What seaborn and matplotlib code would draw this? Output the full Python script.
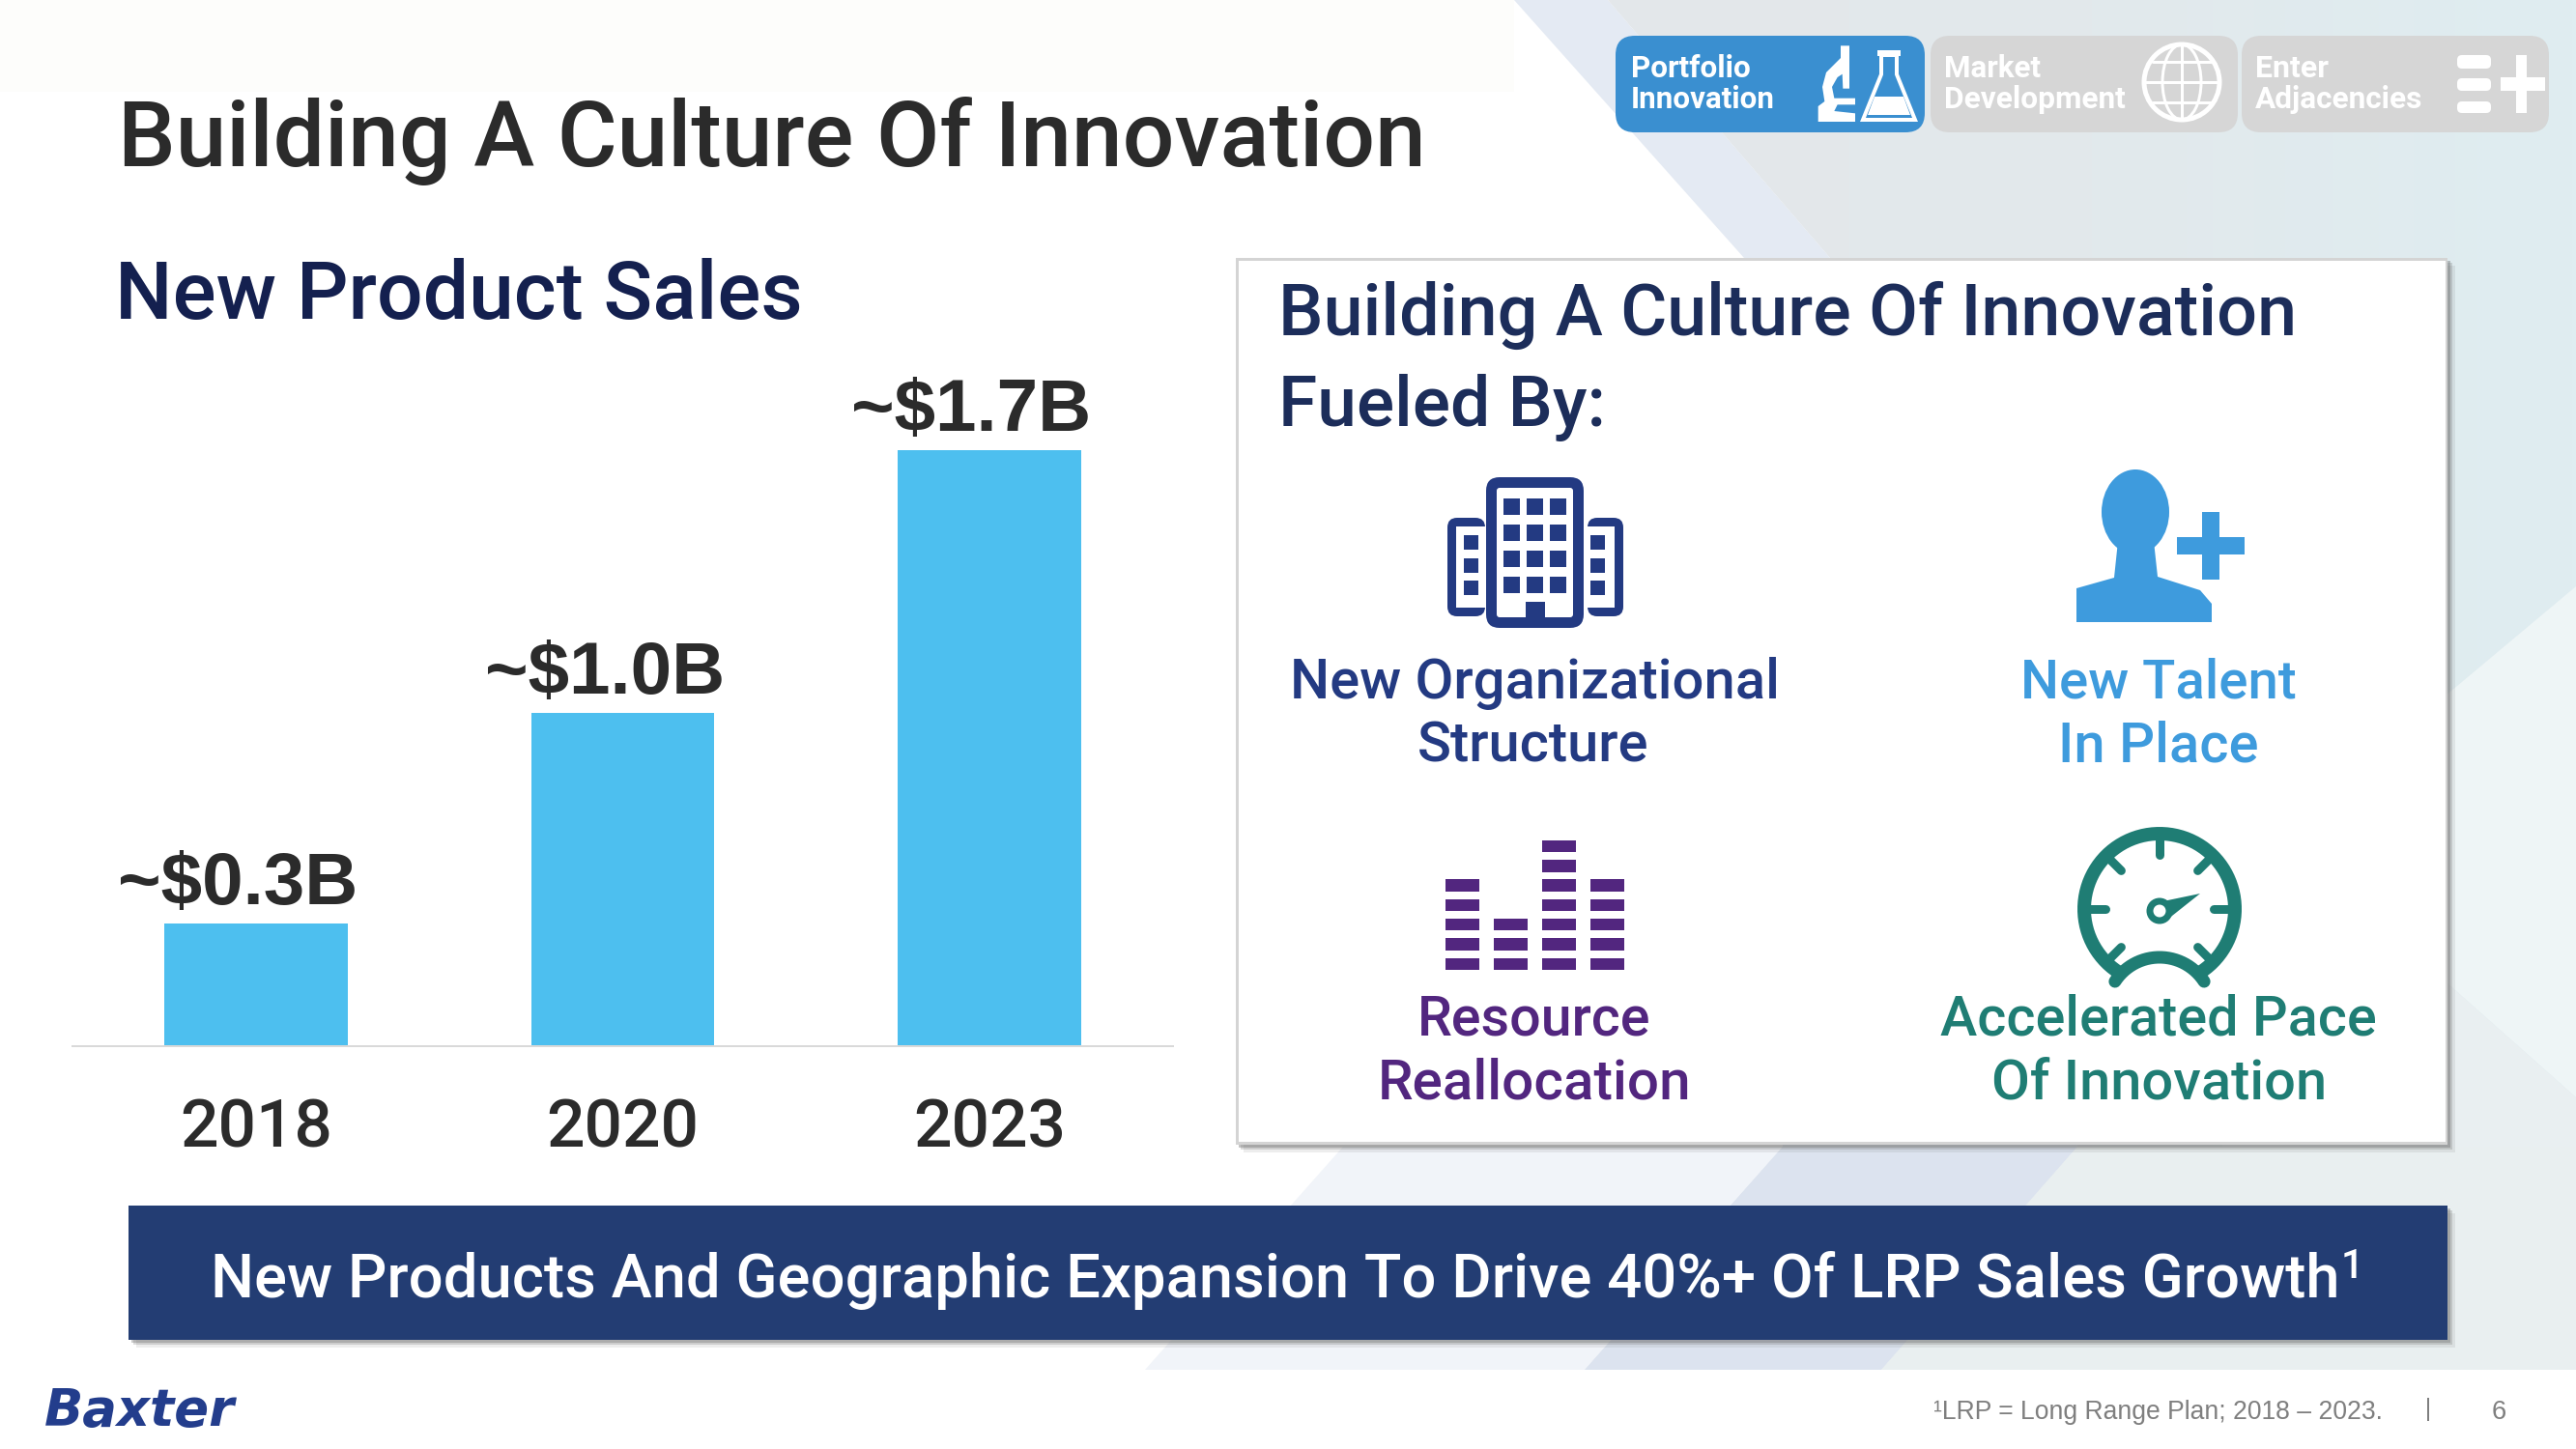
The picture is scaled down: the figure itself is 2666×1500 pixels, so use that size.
import numpy as np
import pandas as pd
import matplotlib
matplotlib.use('Agg')
import matplotlib.pyplot as plt
import seaborn as sns
from matplotlib.patches import Polygon, Rectangle, FancyBboxPatch, Circle, Ellipse
from matplotlib.colors import LinearSegmentedColormap

years = ['2018', '2020', '2023']
sales = [0.35, 0.95, 1.7]  # bar heights as drawn, $B
sales_labels = ['~$0.3B', '~$1.0B', '~$1.7B']

W, H = 2666, 1500
S = W / 1568.0
NARROW = ['Roboto', 'DejaVu Sans']
PLAIN = ['Liberation Sans', 'DejaVu Sans']

sns.set_style('white')
plt.rcParams['font.family'] = NARROW

fig = plt.figure(figsize=(W / 200, H / 200), dpi=200, facecolor='white')
bg = fig.add_axes([0, 0, 1, 1])
bg.set_axis_off()


def lw(px):
    return px * 72 / 200.0


def poly(pts, c, z=1, **kw):
    p = Polygon(pts, closed=True, fc=c, ec='none', zorder=z, **kw)
    bg.add_patch(p)
    return p


def box(x0, y0, x1, y1, c, z=2, **kw):
    bg.add_patch(Rectangle((x0, y0), x1 - x0, y1 - y0, fc=c, ec='none', zorder=z, **kw))


def rbox(x0, y0, x1, y1, r, c, z=3):
    bg.add_patch(FancyBboxPatch((x0 + r, y0 + r), x1 - x0 - 2 * r, y1 - y0 - 2 * r,
                                boxstyle='round,pad=%f' % r, fc=c, ec='none', zorder=z))


def line(xs, ys, c, w, z=5, cap='round'):
    bg.plot(xs, ys, color=c, lw=lw(w), solid_capstyle=cap, zorder=z)


def txt(x, y, s, width, c, ha='left', weight='medium', family=NARROW, z=6, **kw):
    # size gets scaled so the string comes out at the width seen in the slide
    t = bg.text(x, y, s, fontsize=20, color=c, ha=ha, va='baseline', fontweight=weight,
                family=family, zorder=z, **kw)
    got = t.get_window_extent(fig.canvas.get_renderer()).width
    t.set_fontsize(20 * width / got)
    return t


# background shards
bg_cmap = LinearSegmentedColormap.from_list('bgc', ['#e4e7ea', '#e2e9ec', '#dfedf1'])
bg.set_xlim(0, W)
bg.set_ylim(H, 0)
box(0, 0, 1567, 95, '#fdfdfb', z=0)
poly([(1567, 0), (1664, 0), (1894, 267), (2150, 1187), (1947, 1418), (1640, 1418), (1845, 1187), (1805, 267)],
     '#e4eaf3', z=1)
main = poly([(1664, 0), (W, 0), (W, 1418), (1947, 1418), (2150, 1187), (1894, 267)], 'none', z=1)
im = bg.imshow(np.linspace(0, 1, 256).reshape(1, -1), extent=(1664, W, H, 0), cmap=bg_cmap,
               aspect='auto', zorder=1)
im.set_clip_path(main)
poly([(2400, 830), (W, 607), (W, 1136), (2400, 900)], '#eef5f6', z=1.2)
poly([(2400, 900), (W, 1136), (W, 1418), (2300, 1418), (2300, 900)], '#e9eff1', z=1.2)
poly([(1390, 1187), (1845, 1187), (1640, 1418), (1185, 1418)], '#f1f4f9', z=1.2)
poly([(1845, 1187), (2150, 1187), (1947, 1418), (1640, 1418)], '#dce3ef', z=1.2)
poly([(2150, 1187), (W, 1187), (W, 1418), (1947, 1418)], '#e9eff0', z=1.2)
bg.set_xlim(0, W)
bg.set_ylim(H, 0)

# top right tabs
rbox(1672, 37, 1992, 137, 20, '#3a8fd0')
rbox(1998, 37, 2316, 137, 20, '#d6d6d6')
rbox(2320, 37, 2638, 137, 20, '#d6d6d6')
txt(1688, 80, 'Portfolio', 124, 'white', weight='bold')
txt(1688, 112, 'Innovation', 149, 'white', weight='bold')
txt(2012, 80, 'Market', 100, 'white', weight='bold')
txt(2012, 112, 'Development', 188, 'white', weight='bold')
txt(2334, 80, 'Enter', 76, 'white', weight='bold')
txt(2334, 112, 'Adjacencies', 173, 'white', weight='bold')

# flask
poly([(1947, 57), (1947, 77), (1928, 124), (1982, 124), (1963, 77), (1963, 57)], 'none', z=5).set(ec='white', lw=lw(4))
box(1943, 52, 1967, 58, 'white', z=5)
poly([(1940, 100), (1970, 100), (1977, 119), (1933, 119)], 'white', z=5)
scope = [(105, 22), (132, 22), (132, 155), (112, 155), (110, 110), (95, 120), (78, 150), (85, 185),
         (150, 185), (150, 205), (95, 205), (85, 225), (150, 232), (150, 258), (35, 258), (35, 210),
         (55, 195), (48, 150), (60, 105), (100, 65), (105, 60)]
poly([(1870 + x / 3.0, 40 + y / 3.0) for x, y in scope], 'white', z=5)

# globe
bg.add_patch(Circle((2258, 85), 39, fc='none', ec='white', lw=lw(5), zorder=5))
bg.add_patch(Ellipse((2258, 85), 40, 78, fc='none', ec='white', lw=lw(3), zorder=5))
line([2258, 2258], [46, 124], 'white', 3)
line([2220, 2296], [85, 85], 'white', 3)
line([2228, 2288], [64, 64], 'white', 3)
line([2228, 2288], [106, 106], 'white', 3)

# adjacencies icon
for y0, y1 in [(57, 71), (81, 94), (105, 117)]:
    rbox(2543, y0, 2578, y1, 5, 'white', z=5)
box(2604, 57, 2615, 117, 'white', z=5)
box(2588, 80, 2634, 94, 'white', z=5)

# titles
txt(72 * S, 101 * S, 'Building A Culture Of Innovation', 796 * S, '#2b2b2b')
txt(70 * S, 194 * S, 'New Product Sales', 418 * S, '#14204f')

# card + shadow
for off, a in [(8, 0.12), (5, 0.25), (3, 0.4)]:
    box(1279 + off, 267 + off, 2533 + off, 1185 + off, '#707070', z=2, alpha=a)
box(1279, 267, 2533, 1185, '#d4d4d4', z=2.5)
box(1282, 270, 2531, 1182, 'white', z=2.6)
txt(778 * S, 204 * S, 'Building A Culture Of Innovation', 620 * S, '#1c2d5a')
txt(778 * S, 259.5 * S, 'Fueled By:', 199 * S, '#1c2d5a')

NAVY = '#233a82'
SKY = '#3e9bdd'
PURPLE = '#52267f'
TEAL = '#1f7d74'
txt(934 * S, 425 * S, 'New Organizational', 298 * S, NAVY, ha='center')
txt(933 * S, 464 * S, 'Structure', 141 * S, NAVY, ha='center')
txt(1314 * S, 425 * S, 'New Talent', 168 * S, SKY, ha='center')
txt(1314 * S, 464 * S, 'In Place', 122 * S, SKY, ha='center')
txt(934 * S, 630 * S, 'Resource', 142 * S, PURPLE, ha='center')
txt(934 * S, 669 * S, 'Reallocation', 191 * S, PURPLE, ha='center')
txt(1314 * S, 630 * S, 'Accelerated Pace', 266 * S, TEAL, ha='center')
txt(1314 * S, 669 * S, 'Of Innovation', 204 * S, TEAL, ha='center')

# building icon
rbox(1538, 494, 1639, 650, 14, NAVY, z=4)
rbox(1549, 505, 1628, 639, 3, 'white', z=4.5)
rbox(1498, 536, 1537, 638, 10, NAVY, z=4)
box(1507, 545, 1537, 629, 'white', z=4.5)
rbox(1643, 536, 1680, 638, 10, NAVY, z=4)
box(1643, 545, 1671, 629, 'white', z=4.5)
for wx in [1556, 1580, 1604]:
    for wy in [516, 543, 570, 597]:
        box(wx, wy, wx + 17, wy + 17, NAVY, z=5)
box(1579, 623, 1599, 640, NAVY, z=5)
for wx in [1515, 1646]:
    for wy in [554, 578, 601]:
        box(wx, wy, wx + 15, wy + 15, NAVY, z=5)

# person icon
bg.add_patch(Ellipse((2210, 530), 70, 88, fc=SKY, ec='none', zorder=5))
poly([(2192, 560), (2229, 560), (2233, 597), (2277, 611), (2289, 625), (2289, 644), (2149, 644),
      (2149, 609), (2188, 598)], SKY, z=5)
box(2279, 530, 2297, 600, SKY, z=5)
box(2253, 556, 2323, 574, SKY, z=5)

# equalizer icon
for x0, n in [(1496, 5), (1546, 3), (1596, 7), (1646, 5)]:
    for i in range(n):
        box(x0, 1004 - 12.5 - i * 20.3, x0 + 35, 1004 - i * 20.3, PURPLE, z=5)

# gauge icon
a = np.radians(np.linspace(-148, 148, 80))
line(2235 + 78 * np.sin(a), 941 - 78 * np.cos(a), TEAL, 14)
b = np.radians(np.linspace(-57, 57, 30))
line(2235 + 55 * np.sin(b), 1046 - 55 * np.cos(b), TEAL, 13)
for d in [-90, -45, 0, 45, 90, -135, 135]:
    s, c = np.sin(np.radians(d)), np.cos(np.radians(d))
    line([2235 + 76 * s, 2235 + 56 * s], [941 - 76 * c, 941 - 56 * c], TEAL, 9)
bg.add_patch(Circle((2235, 943), 10, fc='white', ec=TEAL, lw=lw(7), zorder=5))
poly([(2229, 935), (2277, 925), (2243, 952)], TEAL, z=4.9)

# banner
for off, a2 in [(8, 0.12), (5, 0.25), (3, 0.35)]:
    box(133 + off, 1248 + off, 2533 + off, 1387 + off, '#707070', z=2, alpha=a2)
box(133, 1248, 2533, 1387, '#233d73', z=2.5)
txt(128 * S, 790 * S, 'New Products And Geographic Expansion To Drive 40%+ Of LRP Sales Growth',
    1296 * S, 'white')
bg.text(1425 * S, 1323, '1', fontsize=15, color='white', fontweight='medium', va='baseline', zorder=6)

# footer
txt(27 * S, 868 * S, 'Baxter', 116 * S, '#233d8c', weight='bold', family=['DejaVu Sans'], style='italic')
txt(1177 * S, 864 * S, '\u00b9LRP = Long Range Plan; 2018 \u2013 2023.', 273 * S, '#7f7f7f',
    weight='normal', family=PLAIN)
line([1478 * S, 1478 * S], [851 * S, 865 * S], '#7f7f7f', 2, cap='butt')
txt(1521 * S, 864 * S, '6', 9 * S, '#7f7f7f', ha='center', weight='normal', family=PLAIN)

# the actual chart
BASE = 1083
ax = fig.add_axes([75 / W, 1 - BASE / H, (1214 - 75) / W, (BASE - 300) / H], facecolor='none')
df = pd.DataFrame({'year': years, 'sales': sales})
sns.barplot(data=df, x='year', y='sales', order=years, color='#4dbfef', saturation=1, width=0.5,
            linewidth=0, ax=ax)
ax.set_xlim(-0.5, 2.5)
ax.set_ylim(0, (BASE - 300) / 363.0)
ax.set_xlabel('')
ax.set_ylabel('')
ax.set_yticks([])
ax.tick_params(axis='x', length=0, pad=19, labelsize=25, colors='#2b2b2b')
for l in ax.get_xticklabels():
    l.set_fontweight('medium')
for sp in ['top', 'left', 'right']:
    ax.spines[sp].set_visible(False)
ax.spines['bottom'].set_color('#d9d9d9')
ax.spines['bottom'].set_linewidth(lw(2))
labs = ax.bar_label(ax.containers[0], labels=sales_labels, padding=1, fontsize=27.5, fontweight='bold',
                    color='#2b2b2b', family=PLAIN)
for lab in labs:
    lab.xyann = (-6.8, 1.5)  # labels sit a bit left of the bar centres on the slide

fig.savefig('out.png', dpi=200)
